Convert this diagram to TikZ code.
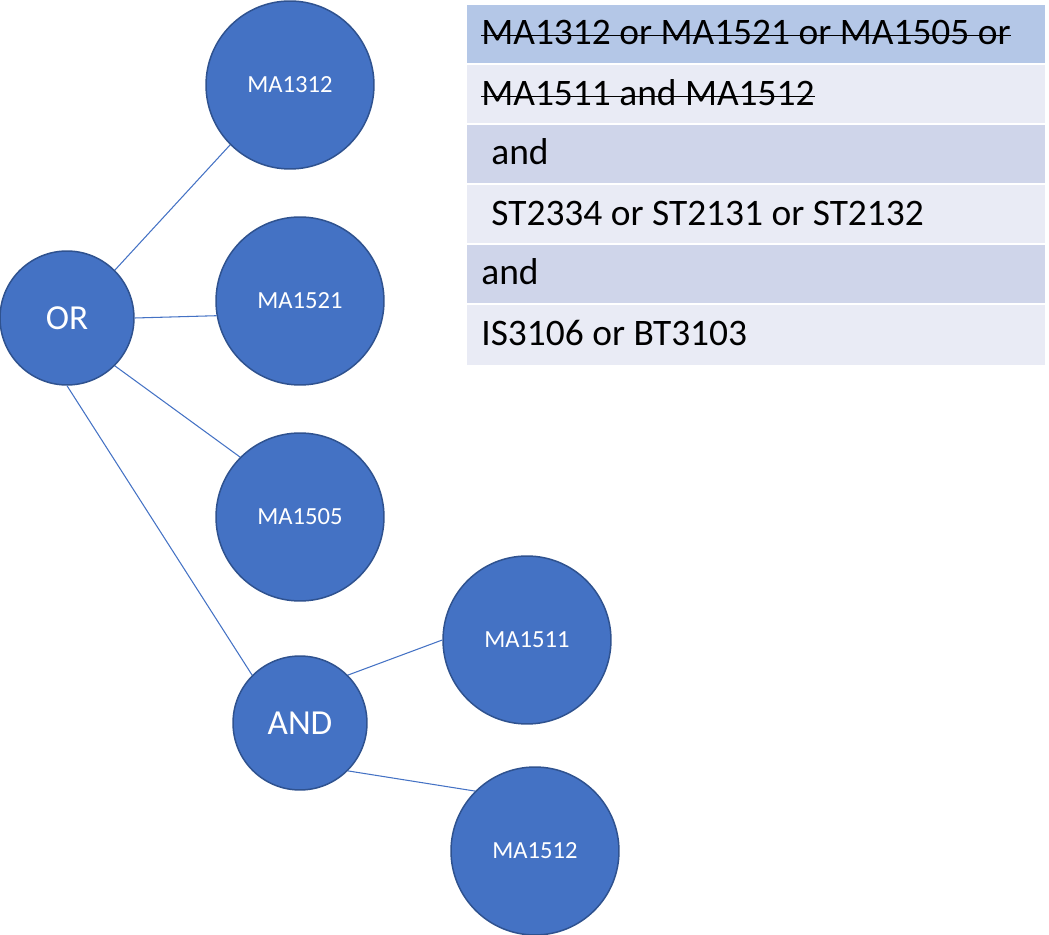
\documentclass[tikz,border=0pt]{standalone}
\usepackage{fontspec}
\setmainfont{Carlito}
\definecolor{nodeblue}{HTML}{4472C4}
\definecolor{nodeedge}{HTML}{2F528F}
\definecolor{headrow}{HTML}{B4C7E7}
\definecolor{darkrow}{HTML}{CFD5EA}
\definecolor{lightrow}{HTML}{E9EBF5}
\begin{document}
\begin{tikzpicture}[x=0.02cm,y=-0.02cm,
  gate/.style={circle,draw=nodeedge,fill=nodeblue,line width=0.85pt,inner sep=0pt,
    minimum size=2.68cm,text=white,font=\fontsize{20}{24}\selectfont},
  course/.style={gate,minimum size=3.36cm,font=\fontsize{14}{17}\selectfont},
  link/.style={draw=nodeblue,line width=0.6pt},
  cell/.style={anchor=base west,inner sep=0pt,font=\fontsize{21.3}{26}\selectfont},
  strike/.style={line width=1.1pt}]
\useasboundingbox (0,0) rectangle (1049,935);
% table of the requirement
\fill[headrow] (467,5) rectangle (1045,63);
\fill[lightrow] (467,65) rectangle (1045,123);
\fill[darkrow] (467,125) rectangle (1045,183);
\fill[lightrow] (467,185) rectangle (1045,243);
\fill[darkrow] (467,245) rectangle (1045,303);
\fill[lightrow] (467,305) rectangle (1045,365);
\node[cell] (row1) at (481,45) {MA1312 or MA1521 or MA1505 or};
\node[cell] (row2) at (481,106) {MA1511 and MA1512};
\node[cell] (row3) at (491,165) {and};
\node[cell] (row4) at (491,226) {ST2334 or ST2131 or ST2132};
\node[cell] (row5) at (481,285) {and};
\node[cell] (row6) at (481,346) {IS3106 or BT3103};
\draw[strike] ([yshift=0.19cm]row1.base west) -- ([yshift=0.19cm]row1.base east);
\draw[strike] ([yshift=0.19cm]row2.base west) -- ([yshift=0.19cm]row2.base east);
% tree
\node[gate] (or) at (67,318) {OR};
\node[course] (ma1312) at (290,85) {MA1312};
\node[course] (ma1521) at (300,301) {MA1521};
\node[course] (ma1505) at (300,517) {MA1505};
\node[gate] (and) at (300,723) {AND};
\node[course] (ma1511) at (527,640) {MA1511};
\node[course] (ma1512) at (535,851) {MA1512};
\draw[link] (or.north east) -- (ma1312.south west);
\draw[link] (or.east) -- (ma1521.190);
\draw[link] (or.south east) -- (ma1505.north west);
\draw[link] (or.south) -- (and.north west);
\draw[link] (and.north east) -- (ma1511.west);
\draw[link] (and.south east) -- (ma1512.north west);
\end{tikzpicture}
\end{document}
